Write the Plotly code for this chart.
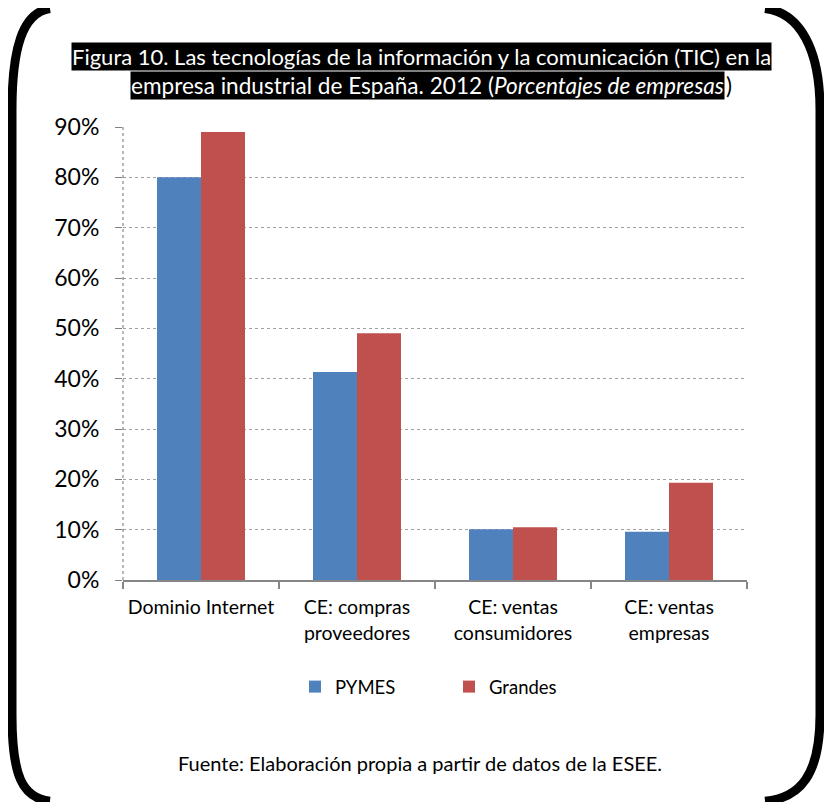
import plotly.graph_objects as go

categories = ["Dominio Internet", "CE: compras<br>proveedores", "CE: ventas<br>consumidores", "CE: ventas<br>empresas"]
pymes = [80.0, 41.3, 10.1, 9.6]
grandes = [89.0, 49.0, 10.5, 19.3]
series_names = ["PYMES", "Grandes"]
y_ticks = [0, 10, 20, 30, 40, 50, 60, 70, 80, 90]
y_tick_labels = [f"{v}%" for v in y_ticks]

OFF = 8  # page body margin
W, H = 816, 794
# plot area in reference (page) pixel coordinates
L, R, T, B = 123, 747, 127.3, 580
FONT = "Lato, Calibri, Carlito, sans-serif"

def px(x):
    return (x - L) / (R - L)

def py(y):
    return (B - y) / (B - T)

fig = go.Figure()
fig.add_trace(go.Bar(x=categories, y=pymes, name=series_names[0],
                     marker=dict(color="#4F81BD", line=dict(width=0))))
fig.add_trace(go.Bar(x=categories, y=grandes, name=series_names[1],
                     marker=dict(color="#C0504D", line=dict(width=0))))

left_path = (f"M {px(50)},{py(9)} C {px(22)},{py(13)} {px(12)},{py(50)} {px(12)},{py(110)} "
             f"L {px(12)},{py(715)} C {px(12)},{py(775)} {px(22)},{py(798)} {px(50)},{py(801)}")
right_path = (f"M {px(765)},{py(9)} C {px(800)},{py(13)} {px(820)},{py(50)} {px(820)},{py(110)} "
              f"L {px(820)},{py(715)} C {px(820)},{py(775)} {px(800)},{py(798)} {px(765)},{py(801)}")

shapes = [
    dict(type="path", xref="paper", yref="paper", path=left_path,
         line=dict(color="black", width=9)),
    dict(type="path", xref="paper", yref="paper", path=right_path,
         line=dict(color="black", width=9)),
    dict(type="line", xref="paper", yref="paper", x0=0, x1=0, y0=0, y1=1,
         line=dict(color="#707070", width=1, dash="dot")),
]

annotations = [
    dict(text="Figura 10. Las tecnologías de la información y la comunicación (TIC) en la",
         x=px(421.5), y=py(57), xref="paper", yref="paper", xanchor="center", yanchor="middle",
         showarrow=False, bgcolor="black", borderpad=0,
         font=dict(family=FONT, size=22, color="white")),
    dict(text="empresa industrial de España. 2012 (<i>Porcentajes de empresas</i>",
         x=px(725), y=py(86), xref="paper", yref="paper", xanchor="right", yanchor="middle",
         showarrow=False, bgcolor="black", borderpad=0,
         font=dict(family=FONT, size=22.6, color="white")),
    dict(text=")",
         x=px(725), y=py(86), xref="paper", yref="paper", xanchor="left", yanchor="middle",
         showarrow=False, borderpad=0,
         font=dict(family=FONT, size=22.6, color="black")),
    dict(text="Fuente: Elaboración propia a partir de datos de la ESEE.",
         x=px(420), y=py(763), xref="paper", yref="paper", xanchor="center", yanchor="middle",
         showarrow=False, font=dict(family=FONT, size=20, color="black")),
]

fig.update_layout(
    width=W, height=H,
    margin=dict(l=L - OFF, r=W - (R - OFF), t=T - OFF, b=H - (B - OFF), pad=0),
    paper_bgcolor="white", plot_bgcolor="white",
    barmode="group", bargap=0.436, bargroupgap=0,
    font=dict(family=FONT, color="black"),
    showlegend=True,
    legend=dict(orientation="h", x=px(295), y=py(687), xanchor="left", yanchor="middle",
                font=dict(family=FONT, size=18.5, color="black"),
                entrywidth=109, itemwidth=30, traceorder="normal"),
    shapes=shapes,
    annotations=annotations,
    xaxis=dict(showline=True, linecolor="#868686", linewidth=2,
               ticks="outside", tickson="boundaries", ticklen=7, tickcolor="#868686", tickwidth=1.5,
               tickfont=dict(family=FONT, size=19.5, color="black"), tickangle=0,
               ticklabelstandoff=9,
               showgrid=False, zeroline=False, fixedrange=True),
    yaxis=dict(range=[0, 90], tickvals=y_ticks, ticktext=y_tick_labels,
               showline=False,
               ticks="outside", ticklen=7, tickcolor="#808080",
               tickfont=dict(family=FONT, size=23, color="black"),
               showgrid=True, gridcolor="#A0A0A0", griddash="dot", gridwidth=1,
               zeroline=False, ticklabelstandoff=11),
)

fig.write_html("out.html")
